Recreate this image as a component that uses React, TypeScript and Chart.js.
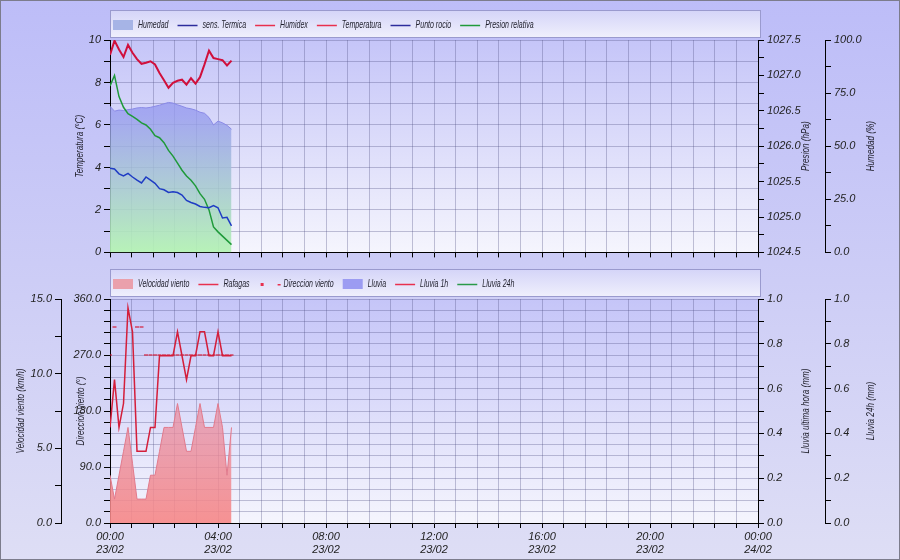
import React, { useEffect, useRef } from 'react';
import { Chart, registerables } from 'chart.js';
Chart.register(...registerables);

const FONT = '"Liberation Sans", Arial, Helvetica, sans-serif';

// ---- data (10-minute samples, 23/02) ----
const times = ['00:00','00:10','00:20','00:30','00:40','00:50','01:00','01:10','01:20','01:30','01:40','01:50','02:00','02:10','02:20','02:30','02:40','02:50','03:00','03:10','03:20','03:30','03:40','03:50','04:00','04:10','04:20','04:30'];
const temperatura = [9.3, 9.97, 9.55, 9.2, 9.77, 9.4, 9.1, 8.88, 8.93, 9.0, 8.85, 8.45, 8.1, 7.75, 7.98, 8.08, 8.13, 7.9, 8.2, 7.95, 8.25, 8.85, 9.5, 9.15, 9.1, 9.05, 8.8, 9.03];
const puntoRocio = [3.96, 3.93, 3.7, 3.6, 3.72, 3.55, 3.4, 3.27, 3.55, 3.4, 3.25, 3.0, 2.95, 2.82, 2.85, 2.82, 2.7, 2.45, 2.35, 2.28, 2.16, 2.12, 2.1, 2.2, 2.1, 1.62, 1.65, 1.25];
const presion = [1026.85, 1027.0, 1026.7, 1026.55, 1026.46, 1026.42, 1026.38, 1026.33, 1026.3, 1026.24, 1026.15, 1026.12, 1026.05, 1025.94, 1025.86, 1025.76, 1025.66, 1025.58, 1025.52, 1025.44, 1025.33, 1025.25, 1025.1, 1024.86, 1024.79, 1024.73, 1024.67, 1024.61];
const humedad = [68.8, 66.5, 67.0, 66.8, 67.2, 67.5, 68.0, 68.2, 68.0, 68.3, 68.8, 69.3, 70.0, 70.6, 70.3, 69.5, 68.8, 68.0, 67.6, 67.0, 66.0, 65.5, 63.5, 60.0, 61.8, 61.0, 59.8, 58.0];
const sensTermica: number[] = [];
const humidex: number[] = [];

const velocidadViento = [3.2, 1.6, 3.2, 4.8, 6.4, 4.0, 1.6, 1.6, 1.6, 3.2, 3.2, 4.8, 6.4, 6.4, 6.4, 8.0, 6.4, 4.8, 4.8, 6.4, 8.0, 6.4, 6.4, 6.4, 8.0, 6.4, 3.2, 6.4];
const rafagas = [6.4, 9.6, 6.4, 8.0, 14.4, 12.8, 4.8, 4.8, 4.8, 6.4, 6.4, 11.2, 11.2, 11.2, 11.2, 12.8, 11.2, 9.6, 11.2, 11.2, 12.8, 12.8, 11.2, 11.2, 12.8, 11.2, 11.2, 11.2];
const direccionViento = [270, 315, null, null, null, null, 315, 315, 270, 270, 270, 270, 270, 270, 270, 270, 270, 270, 270, 270, 270, 270, 270, 270, 270, 270, 270, 270];
const lluvia: number[] = [];
const lluvia1h: number[] = [];
const lluvia24h: number[] = [];

const majorTickTimes = ['00:00', '04:00', '08:00', '12:00', '16:00', '20:00', '00:00'];
const majorTickDates = ['23/02', '23/02', '23/02', '23/02', '23/02', '23/02', '24/02'];

const toMin = (t: string) => { const [h, m] = t.split(':').map(Number); return h * 60 + m; };
const pts = (vals: (number | null)[]) => vals.map((v, i) => ({ x: toMin(times[i]), y: v }));

const GRID = 'rgba(80,80,130,0.33)';
const tickFont = { family: FONT, size: 11, style: 'italic' as const };

function yAxis(pos: string, width: number, weight: number, min: number, max: number, step: number, label: (v: number) => string, grid: boolean) {
  return {
    type: 'linear', position: pos, weight, min, max,
    afterFit: (s: any) => { s.width = width; },
    border: { display: true, color: '#000', width: 1 },
    grid: { drawOnChartArea: grid, color: GRID, tickLength: 6, tickColor: '#000', tickWidth: 1 },
    ticks: { stepSize: step, autoSkip: false, font: tickFont, color: '#222', padding: 3, callback: (v: any) => label(Number(v)) },
  };
}

function xAxis(height: number, labels: boolean) {
  return {
    type: 'linear', position: 'bottom', min: 0, max: 1440,
    afterFit: (s: any) => { s.height = height; },
    border: { display: true, color: '#000', width: 1 },
    grid: { color: GRID, tickLength: 5, tickColor: '#000' },
    ticks: {
      stepSize: 48, autoSkip: false, maxRotation: 0, minRotation: 0, padding: 2,
      font: { ...tickFont, lineHeight: 1.2 }, color: '#222',
      callback: (v: any) => {
        if (!labels) return '';
        const k = Math.round(Number(v)) / 240;
        return Number.isInteger(k) ? [majorTickTimes[k], majorTickDates[k]] : '';
      },
    },
  };
}

const decorPlugin = {
  id: 'decor',
  beforeDraw(chart: any) {
    const { ctx, chartArea: a } = chart;
    ctx.save();
    const g = ctx.createLinearGradient(0, a.top, 0, a.bottom);
    g.addColorStop(0, '#c5c5f8');
    g.addColorStop(1, '#f5f5fd');
    ctx.fillStyle = g;
    ctx.fillRect(a.left, a.top, a.right - a.left, a.bottom - a.top);

    // legend box
    const lt = a.top - 30, lb = a.top - 3, ll = a.left, lr = a.right + 2;
    const lg = ctx.createLinearGradient(0, lt, 0, lb);
    lg.addColorStop(0, '#d4d4f8');
    lg.addColorStop(1, '#efeffc');
    ctx.fillStyle = lg;
    ctx.fillRect(ll + 0.5, lt + 0.5, lr - ll, lb - lt);
    ctx.strokeStyle = '#9a9ace';
    ctx.lineWidth = 1;
    ctx.strokeRect(ll + 0.5, lt + 0.5, lr - ll, lb - lt);

    const cy = Math.round((lt + lb) / 2) + 1;
    let x = a.left + 3;
    ctx.font = 'italic 11px ' + FONT;
    ctx.textBaseline = 'middle';
    ctx.textAlign = 'left';
    const sx = 0.64;
    for (const ds of chart.data.datasets) {
      const col = ds.legendColor;
      if (ds.legendSymbol === 'box') {
        ctx.fillStyle = col;
        ctx.fillRect(x, cy - 5, 20, 10);
      } else if (ds.legendSymbol === 'line') {
        ctx.strokeStyle = col;
        ctx.lineWidth = 1.5;
        ctx.beginPath();
        ctx.moveTo(x, cy + 0.5);
        ctx.lineTo(x + 20, cy + 0.5);
        ctx.stroke();
      } else if (ds.legendSymbol === 'marker') {
        ctx.fillStyle = col;
        ctx.fillRect(x + 2, cy - 1, 3, 3);
        ctx.fillRect(x + 19, cy, 3, 1.5);
      }
      const tx = x + 25;
      ctx.save();
      ctx.translate(tx, cy);
      ctx.scale(sx, 1);
      ctx.fillStyle = '#1e1e2a';
      ctx.fillText(ds.label, 0, 0);
      ctx.restore();
      x = tx + ctx.measureText(ds.label).width * sx + 9;
    }
    ctx.restore();
  },
  afterDraw(chart: any, _args: any, opts: any) {
    const { ctx, chartArea: a } = chart;
    const cy = (a.top + a.bottom) / 2;
    for (const t of opts.titles || []) {
      const s = chart.scales[t.scale];
      ctx.save();
      ctx.translate(s.left + t.offset, cy);
      ctx.rotate(-Math.PI / 2);
      ctx.scale(0.74, 1);
      ctx.font = 'italic 11px ' + FONT;
      ctx.textAlign = 'center';
      ctx.textBaseline = 'middle';
      ctx.fillStyle = '#1e1e2a';
      ctx.fillText(t.text, 0, 0);
      ctx.restore();
    }
  },
};

const int = (v: number) => (v % 2 === 0 ? String(v) : '');
const dec1 = (every: number) => (v: number) => (Math.abs(v / every - Math.round(v / every)) < 1e-6 ? v.toFixed(1) : '');

function lineDs(label: string, data: any[], axis: string, color: string, width: number, extra: any = {}) {
  return {
    label, data, yAxisID: axis, borderColor: color, backgroundColor: color, borderWidth: width,
    pointRadius: 0, tension: 0, fill: false, legendSymbol: 'line', legendColor: color, ...extra,
  };
}

export default function App() {
  const topRef = useRef<HTMLCanvasElement>(null);
  const botRef = useRef<HTMLCanvasElement>(null);

  useEffect(() => {
    const humFill = (c: any) => {
      const a = c.chart.chartArea;
      if (!a) return 'rgba(160,170,240,0.7)';
      const g = c.chart.ctx.createLinearGradient(0, a.top, 0, a.bottom);
      g.addColorStop(0, 'rgba(140,140,240,0.78)');
      g.addColorStop(0.35, 'rgba(150,155,238,0.78)');
      g.addColorStop(1, 'rgba(178,242,178,0.92)');
      return g;
    };
    const windFill = (c: any) => {
      const a = c.chart.chartArea;
      if (!a) return 'rgba(240,140,150,0.8)';
      const g = c.chart.ctx.createLinearGradient(0, a.top, 0, a.bottom);
      g.addColorStop(0, 'rgba(222,130,165,0.7)');
      g.addColorStop(0.5, 'rgba(232,140,160,0.72)');
      g.addColorStop(1, 'rgba(246,135,135,0.9)');
      return g;
    };

    const top = new Chart(topRef.current!, {
      type: 'line',
      data: {
        datasets: [
          { ...lineDs('Humedad', pts(humedad), 'yH', '#8a8ae6', 1), fill: 'origin', backgroundColor: humFill, order: 10, legendSymbol: 'box', legendColor: '#a6b4e6' },
          lineDs('sens. Termica', pts(sensTermica), 'yT', '#2c2c9c', 1.5),
          lineDs('Humidex', pts(humidex), 'yT', '#e8304e', 1.5),
          lineDs('Temperatura', pts(temperatura), 'yT', '#d0103c', 2, { legendColor: '#e8304e' }),
          lineDs('Punto rocio', pts(puntoRocio), 'yT', '#1f3cc4', 1.5, { legendColor: '#2c2c9c' }),
          lineDs('Presion relativa', pts(presion), 'yP', '#1f9a3a', 1.5),
        ] as any,
      },
      options: {
        responsive: false, animation: false, events: [],
        layout: { padding: { top: 40, left: 0, right: 0, bottom: 0 } },
        plugins: { legend: { display: false }, tooltip: { enabled: false },
          decor: { titles: [
            { scale: 'yT', offset: 80, text: 'Temperatura (°C)' },
            { scale: 'yP', offset: 48, text: 'Presion (hPa)' },
            { scale: 'yH', offset: 46, text: 'Humedad (%)' },
          ] } } as any,
        scales: {
          x: xAxis(8, false),
          yT: yAxis('left', 110, 0, 0, 10, 1, int, true),
          yP: yAxis('right', 67, 0, 1024.5, 1027.5, 0.25, dec1(0.5), false),
          yH: yAxis('right', 75, 1, 0, 100, 12.5, dec1(25), false),
        } as any,
      },
      plugins: [decorPlugin],
    });

    const bot = new Chart(botRef.current!, {
      type: 'line',
      data: {
        datasets: [
          { ...lineDs('Velocidad viento', pts(velocidadViento), 'yV', '#e27a8c', 1), fill: 'origin', backgroundColor: windFill, order: 10, legendSymbol: 'box', legendColor: '#eaa0ac' },
          lineDs('Rafagas', pts(rafagas), 'yV', '#d41e3a', 1.5, { legendColor: '#e8304e' }),
          { label: 'Direccion viento', data: pts(direccionViento), yAxisID: 'yD', showLine: false, pointStyle: 'line', pointRadius: 2, pointBorderWidth: 1.2, pointBorderColor: '#d41e3a', pointBackgroundColor: '#d41e3a', borderColor: '#d41e3a', legendSymbol: 'marker', legendColor: '#e8304e' },
          { ...lineDs('Lluvia', pts(lluvia), 'yR1', '#8c8cf0', 1), fill: 'origin', backgroundColor: 'rgba(140,140,240,0.7)', legendSymbol: 'box', legendColor: '#9c9cf2' },
          lineDs('Lluvia 1h', pts(lluvia1h), 'yR1', '#e8304e', 1.5),
          lineDs('Lluvia 24h', pts(lluvia24h), 'yR2', '#2a9a48', 1.5),
        ] as any,
      },
      options: {
        responsive: false, animation: false, events: [],
        layout: { padding: { top: 37, left: 0, right: 0, bottom: 0 } },
        plugins: { legend: { display: false }, tooltip: { enabled: false },
          decor: { titles: [
            { scale: 'yV', offset: 21, text: 'Velocidad viento (km/h)' },
            { scale: 'yD', offset: 20, text: 'Direccion viento (°)' },
            { scale: 'yR1', offset: 48, text: 'Lluvia ultima hora (mm)' },
            { scale: 'yR2', offset: 46, text: 'Lluvia 24h (mm)' },
          ] } } as any,
        scales: {
          x: xAxis(37, true),
          yD: yAxis('left', 49, 0, 0, 360, 18, dec1(90), true),
          yV: yAxis('left', 61, 1, 0, 15, 2.5, dec1(5), false),
          yR1: yAxis('right', 67, 0, 0, 1, 0.1, dec1(0.2), false),
          yR2: yAxis('right', 75, 1, 0, 1, 0.1, dec1(0.2), false),
        } as any,
      },
      plugins: [decorPlugin],
    });

    return () => { top.destroy(); bot.destroy(); };
  }, []);

  return (
    <div style={{ position: 'absolute', left: 0, top: 0, width: 900, height: 560, overflow: 'hidden', background: 'linear-gradient(to bottom, #bdbdf8 0%, #cdcdf6 50%, #dedef5 100%)' }}>
      <canvas ref={topRef} width={900} height={262} style={{ position: 'absolute', left: 0, top: 0 }} />
      <canvas ref={botRef} width={900} height={298} style={{ position: 'absolute', left: 0, top: 262 }} />
      <div style={{ position: 'absolute', left: 0, top: 0, width: 900, height: 560, boxSizing: 'border-box', border: '1px solid #7c7c8c', pointerEvents: 'none' }} />
    </div>
  );
}
